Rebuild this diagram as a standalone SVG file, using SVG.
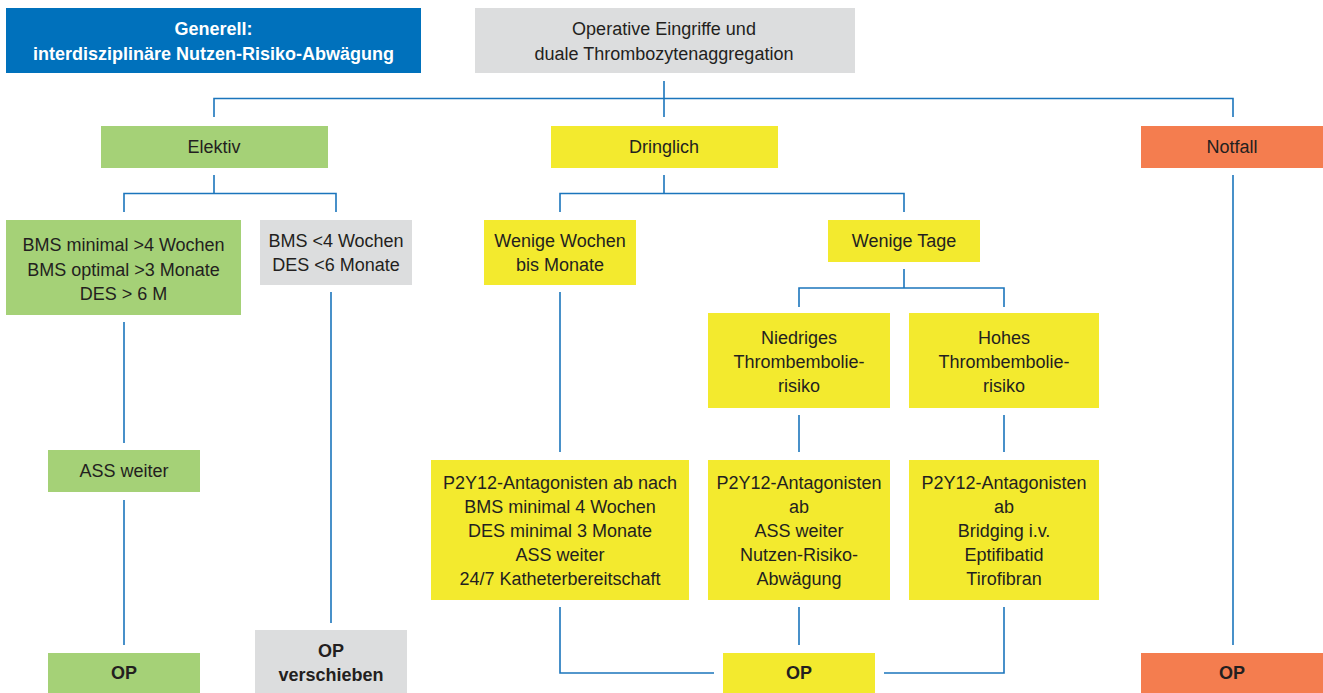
<svg xmlns="http://www.w3.org/2000/svg" width="1323" height="693" viewBox="0 0 1323 693">
<style>
text{font-family:"Liberation Sans",Arial,sans-serif;font-size:18px;fill:#231F20;text-anchor:middle}
.b{font-weight:bold}
.w{fill:#FFFFFF}
.blue{fill:#0071BC}
.grey{fill:#DCDDDE}
.green{fill:#A5D177}
.yellow{fill:#F3EA2E}
.orange{fill:#F47D4F}
.c{fill:none;stroke:#1B75BC;stroke-width:1.6}
</style>
<rect width="1323" height="693" fill="#FFFFFF"/>
<g id="connectors">
<path class="c" d="M664 81V117M214 117V98.5H1233V117"/>
<path class="c" d="M214 175V193.5M124 212V193.5H336V212"/>
<path class="c" d="M664 175V193.5M560 212V193.5H904V212"/>
<path class="c" d="M1233 175V645"/>
<path class="c" d="M124 322V443M124 500V645"/>
<path class="c" d="M331 292V623"/>
<path class="c" d="M560 292V452"/>
<path class="c" d="M904 269V288M799 307V288H1004V307"/>
<path class="c" d="M799 415V452M1004 415V452"/>
<path class="c" d="M560 607V673H714M799 607V645M1004 607V673H884"/>
</g>
<g id="n-generell"><rect class="blue" x="6" y="8" width="415" height="65"/><text class="b w" x="213.5" y="35">Generell:</text><text class="b w" x="213.5" y="60">interdisziplinäre Nutzen-Risiko-Abwägung</text></g>
<g id="n-operative"><rect class="grey" x="475" y="8" width="380" height="65"/><text x="664" y="35">Operative Eingriffe und</text><text x="664" y="60">duale Thrombozytenaggregation</text></g>
<g id="n-elektiv"><rect class="green" x="101" y="126" width="227" height="42"/><text x="214" y="153">Elektiv</text></g>
<g id="n-dringlich"><rect class="yellow" x="551" y="126" width="227" height="42"/><text x="664" y="153">Dringlich</text></g>
<g id="n-notfall"><rect class="orange" x="1141" y="126" width="182" height="42"/><text x="1232" y="153">Notfall</text></g>
<g id="n-bms-min"><rect class="green" x="6" y="220" width="235" height="95"/><text x="123.5" y="251">BMS minimal &gt;4 Wochen</text><text x="123.5" y="276">BMS optimal &gt;3 Monate</text><text x="123.5" y="300">DES &gt; 6 M</text></g>
<g id="n-bms-lt"><rect class="grey" x="260" y="220" width="152" height="65"/><text x="336" y="247">BMS &lt;4 Wochen</text><text x="336" y="271">DES &lt;6 Monate</text></g>
<g id="n-wochen"><rect class="yellow" x="484" y="220" width="152" height="65"/><text x="560" y="247">Wenige Wochen</text><text x="560" y="271">bis Monate</text></g>
<g id="n-tage"><rect class="yellow" x="828" y="220" width="152" height="42"/><text x="904" y="247">Wenige Tage</text></g>
<g id="n-niedrig"><rect class="yellow" x="708" y="313" width="182" height="95"/><text x="799" y="344">Niedriges</text><text x="799" y="368">Thrombembolie-</text><text x="799" y="392">risiko</text></g>
<g id="n-hoch"><rect class="yellow" x="909" y="313" width="190" height="95"/><text x="1004" y="344">Hohes</text><text x="1004" y="368">Thrombembolie-</text><text x="1004" y="392">risiko</text></g>
<g id="n-ass"><rect class="green" x="48" y="450" width="152" height="42"/><text x="124" y="477">ASS weiter</text></g>
<g id="n-p2y12-a"><rect class="yellow" x="431" y="460" width="258" height="140"/><text x="560" y="489">P2Y12-Antagonisten ab nach</text><text x="560" y="513">BMS minimal 4 Wochen</text><text x="560" y="537">DES minimal 3 Monate</text><text x="560" y="561">ASS weiter</text><text x="560" y="585">24/7 Katheterbereitschaft</text></g>
<g id="n-p2y12-b"><rect class="yellow" x="708" y="460" width="182" height="140"/><text x="799" y="489">P2Y12-Antagonisten</text><text x="799" y="513">ab</text><text x="799" y="537">ASS weiter</text><text x="799" y="561">Nutzen-Risiko-</text><text x="799" y="585">Abwägung</text></g>
<g id="n-p2y12-c"><rect class="yellow" x="909" y="460" width="190" height="140"/><text x="1004" y="489">P2Y12-Antagonisten</text><text x="1004" y="513">ab</text><text x="1004" y="537">Bridging i.v.</text><text x="1004" y="561">Eptifibatid</text><text x="1004" y="585">Tirofibran</text></g>
<g id="n-op-green"><rect class="green" x="48" y="653" width="152" height="40"/><text class="b" x="124" y="679">OP</text></g>
<g id="n-op-verschieben"><rect class="grey" x="255" y="630" width="152" height="63"/><text class="b" x="331" y="657">OP</text><text class="b" x="331" y="681">verschieben</text></g>
<g id="n-op-yellow"><rect class="yellow" x="723" y="653" width="152" height="40"/><text class="b" x="799" y="679">OP</text></g>
<g id="n-op-orange"><rect class="orange" x="1141" y="653" width="182" height="40"/><text class="b" x="1232" y="679">OP</text></g>
</svg>
